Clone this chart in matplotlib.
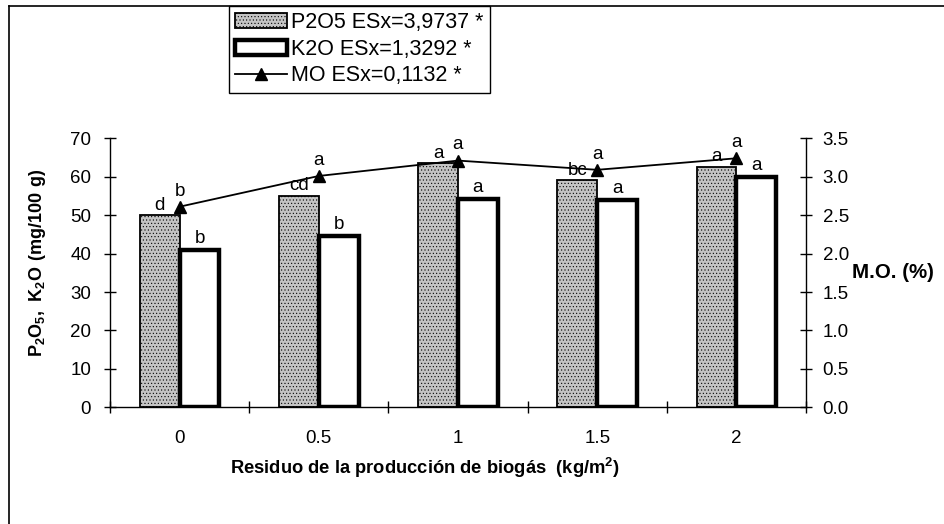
import matplotlib
matplotlib.use("Agg")
import matplotlib.pyplot as plt
from matplotlib.lines import Line2D
import numpy as np

plt.rcParams['font.family'] = ['Liberation Sans', 'DejaVu Sans']
plt.rcParams['mathtext.fontset'] = 'custom'
plt.rcParams['mathtext.rm'] = 'Liberation Sans'
plt.rcParams['mathtext.bf'] = 'Liberation Sans:bold'
plt.rcParams['hatch.color'] = '#9a9a9a'
plt.rcParams['hatch.linewidth'] = 0.4

# data
dosis = ['0', '0.5', '1', '1.5', '2']
p2o5 = [50.0, 55.1, 63.5, 59.1, 62.6]
k2o = [40.9, 44.6, 54.3, 53.9, 60.0]
mo = [2.61, 3.01, 3.21, 3.09, 3.24]
letras_p2o5 = ['d', 'cd', 'a', 'bc', 'a']
letras_k2o = ['b', 'b', 'a', 'a', 'a']
letras_mo = ['b', 'a', 'a', 'a', 'a']
leyenda = ['P2O5 ESx=3,9737 *', 'K2O ESx=1,3292 *', 'MO ESx=0,1132 *']

W, H = 945, 524
fig = plt.figure(figsize=(W / 100, H / 100), dpi=100)
fig.subplots_adjust(left=110 / W, right=806 / W, bottom=1 - 407.3 / H, top=1 - 138.3 / H)
ax = fig.add_subplot(111)
ax2 = ax.twinx()

x = np.arange(len(dosis))
bw = 0.286
b1 = ax.bar(x - bw / 2, p2o5, bw, facecolor='#c4c4c4', edgecolor='black',
            linewidth=1.3, hatch='.....', label=leyenda[0], zorder=2)
b2 = ax.bar(x + bw / 2, k2o, bw, facecolor='white', edgecolor='black',
            linewidth=3.2, label=leyenda[1], zorder=2)
ln, = ax2.plot(x, mo, color='black', linewidth=1.3, marker='^', markersize=9,
               label=leyenda[2], zorder=3)

# letters of significance
for i in range(len(dosis)):
    ax.annotate(letras_p2o5[i], (x[i] - bw / 2, p2o5[i]), xytext=(0, 4),
                textcoords='offset points', ha='center', va='baseline', fontsize=13.5)
    ax.annotate(letras_k2o[i], (x[i] + bw / 2, k2o[i]), xytext=(0, 5),
                textcoords='offset points', ha='center', va='baseline', fontsize=13.5)
    ax2.annotate(letras_mo[i], (x[i], mo[i]), xytext=(0, 8),
                 textcoords='offset points', ha='center', va='baseline', fontsize=13.5)

ax.set_xlim(-0.5, len(dosis) - 0.5)
ax.set_ylim(0, 70)
ax2.set_ylim(0, 3.5)
ax.set_yticks(np.arange(0, 71, 10))
ax2.set_yticks(np.arange(0, 3.51, 0.5))
ax2.set_yticklabels([f'{v:.1f}' for v in np.arange(0, 3.51, 0.5)])
ax.set_xticks(x)
ax.set_xticklabels(dosis)
ax.set_xticks(np.arange(-0.5, len(dosis), 1), minor=True)

ax.tick_params(axis='x', which='major', length=0, pad=16, labelsize=13.5)
ax.tick_params(axis='x', which='minor', direction='inout', length=9, width=1)
ax.tick_params(axis='y', direction='inout', length=9, width=1, pad=9, labelsize=13.5)
ax2.tick_params(axis='y', direction='inout', length=9, width=1, pad=7.5, labelsize=13.5)

for a in (ax, ax2):
    a.spines['top'].set_visible(False)
    for s in ('left', 'right', 'bottom'):
        a.spines[s].set_linewidth(1)
ax.spines['right'].set_visible(False)
ax2.spines['left'].set_visible(False)
ax2.spines['bottom'].set_visible(False)

ax.set_ylabel(r'$\mathbf{P_2O_5,\ K_2O\ (mg/100\ g)}$', fontsize=13)
ax.yaxis.set_label_coords(48 / W, 261 / H, transform=fig.transFigure)
fig.text(852 / W, 1 - 273 / H, 'M.O. (%)', fontsize=14.8, fontweight='bold',
         ha='left', va='center')
fig.text(425 / W, 1 - 468 / H, r'Residuo de la producción de biogás  (kg/m$^{\mathbf{2}}$)',
         fontsize=13.2, fontweight='bold', ha='center', va='center')

# outer frame of the chart area
fig.add_artist(Line2D([9 / W, 1], [1 - 6 / H, 1 - 6 / H], color='black', linewidth=1.2,
                      transform=fig.transFigure))
fig.add_artist(Line2D([9 / W, 9 / W], [1 - 6 / H, 0], color='black', linewidth=1.2,
                      transform=fig.transFigure))

leg = fig.legend([b1, b2, ln], leyenda, loc='upper left',
                 bbox_to_anchor=(229 / W, 1 - 6 / H), borderaxespad=0,
                 fancybox=False, edgecolor='black', framealpha=1, fontsize=15.5,
                 handlelength=2.4, handletextpad=0.2, labelspacing=0.25, borderpad=0.3)
leg.get_frame().set_linewidth(1)

fig.savefig('out.png', dpi=100)
